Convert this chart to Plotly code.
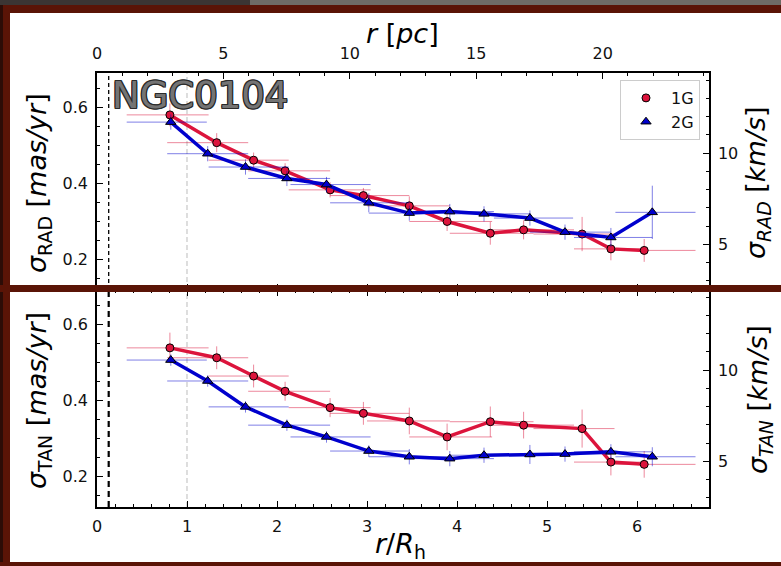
import numpy as np
import plotly.graph_objects as go

# ---------------- data ----------------
R_1G = [0.81, 1.33, 1.74, 2.09, 2.59, 2.96, 3.47, 3.89, 4.37, 4.74, 5.39, 5.71, 6.08]
R_2G = [0.82, 1.23, 1.65, 2.11, 2.55, 3.02, 3.47, 3.92, 4.30, 4.81, 5.20, 5.71, 6.17]
BIN_LO_1G = [0.33, 0.78, 1.24, 1.68, 2.13, 2.59, 3.00, 3.47, 3.92, 4.37, 4.85, 5.30, 5.71]
BIN_HI_1G = [1.24, 1.68, 2.13, 2.59, 3.04, 3.47, 3.92, 4.39, 4.85, 5.30, 5.75, 6.10, 6.65]
BIN_LO_2G = [0.33, 0.78, 1.24, 1.68, 2.15, 2.59, 3.02, 3.47, 3.92, 4.41, 4.81, 5.30, 5.76]
BIN_HI_2G = [1.22, 1.68, 2.13, 2.59, 3.04, 3.47, 3.92, 4.41, 4.81, 5.29, 5.71, 6.17, 6.65]

SIG_RAD_1G = [0.580, 0.507, 0.461, 0.433, 0.383, 0.368, 0.341, 0.300, 0.269, 0.278, 0.267, 0.228, 0.224]
ERR_RAD_1G = [0.030, 0.025, 0.020, 0.020, 0.020, 0.020, 0.025, 0.025, 0.030, 0.025, 0.045, 0.030, 0.030]
SIG_RAD_2G = [0.561, 0.478, 0.443, 0.413, 0.397, 0.349, 0.322, 0.326, 0.320, 0.309, 0.272, 0.258, 0.324]
ERR_RAD_2G = [0.020, 0.020, 0.020, 0.020, 0.020, 0.025, 0.020, 0.020, 0.020, 0.020, 0.020, 0.025, 0.070]

SIG_TAN_1G = [0.538, 0.512, 0.464, 0.424, 0.381, 0.366, 0.346, 0.304, 0.344, 0.335, 0.326, 0.238, 0.232]
ERR_TAN_1G = [0.040, 0.030, 0.030, 0.025, 0.025, 0.030, 0.035, 0.035, 0.040, 0.035, 0.050, 0.035, 0.035]
SIG_TAN_2G = [0.506, 0.451, 0.383, 0.335, 0.304, 0.267, 0.252, 0.247, 0.256, 0.258, 0.259, 0.265, 0.252]
ERR_TAN_2G = [0.015, 0.015, 0.015, 0.015, 0.015, 0.015, 0.020, 0.020, 0.020, 0.025, 0.020, 0.020, 0.025]

R_H_PC = 3.56          # pc per half-light radius
KMS_PER_MASYR = 20.86  # km/s per mas/yr at the cluster distance
R_CORE = 0.13          # r/Rh of the black dashed line

X_RANGE = [0, 6.8]
Y_RANGE = [0.12, 0.69]

COL_1G = "#DC143C"
COL_2G = "#0000CD"
ERRCOL_1G = "rgba(220,20,60,0.5)"
ERRCOL_2G = "rgba(0,0,205,0.5)"

# ---------------- geometry ----------------
W, H = 781, 566
ML, MR, MT, MB = 97, 72, 73, 59
PW, PH = W - ML - MR, H - MT - MB


def px(x):
    return (x - ML) / PW


def py(y):
    return 1 - (y - MT) / PH


FONT = "DejaVu Sans"

fig = go.Figure()


def add_series(x, y, err, lo, hi, col, ecol, sym, xa, ya):
    x = np.array(x)
    fig.add_trace(go.Scatter(
        x=x, y=y, mode="lines+markers", xaxis=xa, yaxis=ya, showlegend=False,
        line=dict(color=col, width=3.5),
        marker=dict(symbol=sym, size=8 if sym == "circle" else 9, color=col,
                    line=dict(color="black", width=1)),
        error_x=dict(type="data", symmetric=False, array=np.array(hi) - x,
                     arrayminus=x - np.array(lo), color=ecol, thickness=1, width=0),
        error_y=dict(type="data", array=err, color=ecol, thickness=1, width=0),
    ))


add_series(R_1G, SIG_RAD_1G, ERR_RAD_1G, BIN_LO_1G, BIN_HI_1G, COL_1G, ERRCOL_1G, "circle", "x", "y")
add_series(R_2G, SIG_RAD_2G, ERR_RAD_2G, BIN_LO_2G, BIN_HI_2G, COL_2G, ERRCOL_2G, "triangle-up", "x", "y")
add_series(R_1G, SIG_TAN_1G, ERR_TAN_1G, BIN_LO_1G, BIN_HI_1G, COL_1G, ERRCOL_1G, "circle", "x2", "y2")
add_series(R_2G, SIG_TAN_2G, ERR_TAN_2G, BIN_LO_2G, BIN_HI_2G, COL_2G, ERRCOL_2G, "triangle-up", "x2", "y2")

# legend-only traces
fig.add_trace(go.Scatter(x=[None], y=[None], mode="markers", name="1G",
                         marker=dict(symbol="circle", size=8, color=COL_1G, line=dict(color="black", width=1))))
fig.add_trace(go.Scatter(x=[None], y=[None], mode="markers", name="2G",
                         marker=dict(symbol="triangle-up", size=9, color=COL_2G, line=dict(color="black", width=1))))

# dummy traces so the secondary axes get drawn
fig.add_trace(go.Scatter(x=[None], y=[None], xaxis="x3", yaxis="y3", showlegend=False, hoverinfo="skip"))
fig.add_trace(go.Scatter(x=[None], y=[None], xaxis="x2", yaxis="y4", showlegend=False, hoverinfo="skip"))

tickfont = dict(family=FONT, size=16, color="#111")


def axis_common(**kw):
    d = dict(showline=True, linecolor="black", linewidth=1.5, ticks="inside", ticklen=6,
             tickwidth=1.2, tickcolor="black", showgrid=False, zeroline=False,
             tickfont=tickfont, ticklabelstandoff=4)
    d.update(kw)
    return d


fig.update_layout(
    width=W, height=H, margin=dict(l=ML, r=MR, t=MT, b=MB),
    paper_bgcolor="white", plot_bgcolor="white",
    xaxis=axis_common(domain=[0, 1], anchor="y", range=X_RANGE, dtick=1, showticklabels=False,
                      minor=dict(dtick=0.2, ticks="inside", ticklen=3, tickwidth=1, tickcolor="black")),
    yaxis=axis_common(domain=[0.5, 1], anchor="x", range=Y_RANGE, dtick=0.2, tick0=0,
                      minor=dict(dtick=0.05, ticks="inside", ticklen=3, tickwidth=1, tickcolor="black")),
    xaxis2=axis_common(domain=[0, 1], anchor="y2", range=X_RANGE, dtick=1, mirror="ticks",
                       minor=dict(dtick=0.2, ticks="inside", ticklen=3, tickwidth=1, tickcolor="black")),
    yaxis2=axis_common(domain=[0, 0.5], anchor="x2", range=Y_RANGE, dtick=0.2, tick0=0,
                       minor=dict(dtick=0.05, ticks="inside", ticklen=3, tickwidth=1, tickcolor="black")),
    xaxis3=axis_common(overlaying="x", anchor="y", side="top",
                       range=[X_RANGE[0] * R_H_PC, X_RANGE[1] * R_H_PC], dtick=5, tick0=0,
                       ticklabelstandoff=6,
                       minor=dict(dtick=1, ticks="inside", ticklen=3, tickwidth=1, tickcolor="black")),
    yaxis3=axis_common(overlaying="y", anchor="x", side="right",
                       range=[Y_RANGE[0] * KMS_PER_MASYR, Y_RANGE[1] * KMS_PER_MASYR], dtick=5, tick0=0,
                       minor=dict(dtick=1, ticks="inside", ticklen=3, tickwidth=1, tickcolor="black")),
    yaxis4=axis_common(overlaying="y2", anchor="x2", side="right",
                       range=[Y_RANGE[0] * KMS_PER_MASYR, Y_RANGE[1] * KMS_PER_MASYR], dtick=5, tick0=0,
                       minor=dict(dtick=1, ticks="inside", ticklen=3, tickwidth=1, tickcolor="black")),
    legend=dict(x=px(700), y=py(80), xanchor="right", yanchor="top", bgcolor="white",
                bordercolor="#cccccc", borderwidth=1, font=dict(family=FONT, size=16, color="#111"),
                itemwidth=40, tracegroupgap=0),
    showlegend=True,
)

# vertical reference lines
for ya in ["y domain", "y2 domain"]:
    xa = "x" if ya == "y domain" else "x2"
    thick = ya == "y2 domain"
    fig.add_shape(type="line", xref=xa, yref=ya, x0=R_CORE, x1=R_CORE, y0=0, y1=1, layer="below",
                  line=dict(color="black", width=2.2 if thick else 1.3, dash="6px,4px" if thick else "4px,3px"))
    fig.add_shape(type="line", xref=xa, yref=ya, x0=1, x1=1, y0=0, y1=1, layer="below",
                  line=dict(color="#cccccc", width=1.3, dash="5px,3px"))

# axis labels as annotations
lab = dict(family=FONT, size=27, color="black")
ann = [
    dict(x=px(402), y=py(34), text="<i>r</i> [<i>pc</i>]", textangle=0),
    dict(x=px(400), y=py(545), text="<i>r</i>/<i>R</i><sub>h</sub>", textangle=0),
    dict(x=px(38), y=py(183), text="<i>σ</i><sub>RAD</sub> [<i>mas/yr</i>]", textangle=-90),
    dict(x=px(38), y=py(401), text="<i>σ</i><sub>TAN</sub> [<i>mas/yr</i>]", textangle=-90),
    dict(x=px(757), y=py(183), text="<i>σ</i><sub><i>RAD</i></sub> [<i>km/s</i>]", textangle=-90),
    dict(x=px(759), y=py(400), text="<i>σ</i><sub><i>TAN</i></sub> [<i>km/s</i>]", textangle=-90),
]
for a in ann:
    fig.add_annotation(xref="paper", yref="paper", showarrow=False, font=lab,
                       xanchor="center", yanchor="middle", **a)

# cluster name
fig.add_annotation(xref="paper", yref="paper", x=px(110), y=py(95), xanchor="left", yanchor="middle",
                   showarrow=False, text="NGC0104",
                   font=dict(family=FONT, size=37, color="#747474",
                             shadow="1px 1px 0 #2a2a2a, -1px -1px 0 #2a2a2a, 1px -1px 0 #2a2a2a, -1px 1px 0 #2a2a2a, 0 1px 0 #2a2a2a, 0 -1px 0 #2a2a2a, 1px 0 0 #2a2a2a, -1px 0 0 #2a2a2a"))

# screenshot frame
RED = "#5a1406"
frame = [
    (0, 0, 250, 5, "#3b3533"),
    (250, 0, 781, 5, "#6e6c66"),
    (0, 5, 781, 13, RED),
    (0, 5, 10, 566, RED),
    (0, 5, 3, 566, "#2c0c06"),
    (0, 285, 781, 292, RED),
    (0, 562, 781, 566, RED),
]
for x0, y0, x1, y1, c in frame:
    fig.add_shape(type="rect", xref="paper", yref="paper", x0=px(x0), x1=px(x1), y0=py(y1), y1=py(y0),
                  fillcolor=c, line=dict(width=0), layer="above")

fig.write_html("out.html")
